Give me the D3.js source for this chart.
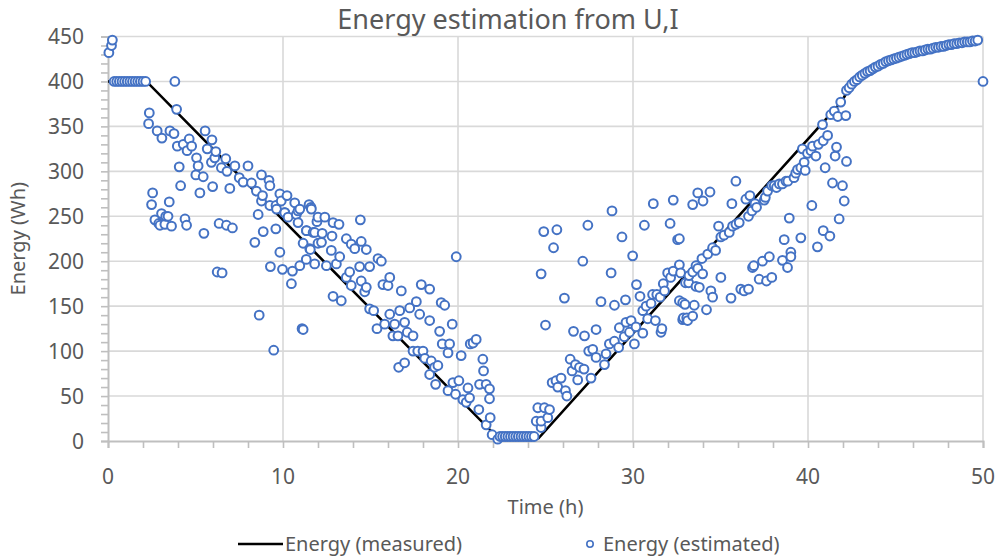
<!DOCTYPE html>
<html>
<head>
<meta charset="utf-8">
<script src="https://cdn.jsdelivr.net/npm/d3@7"></script>
<style>
  body { margin: 0; background: #fff; }
  text { font-family: "Noto Sans", "Open Sans", sans-serif; fill: #595959; }
</style>
</head>
<body>
<div id="chart"></div>
<script>
// Measured energy (black line)
const measTime = [0, 2.2, 22.3, 24.6, 41.9, 42.4, 43, 44, 45, 46, 47, 48, 49, 49.7];
const measEnergy = [400, 400, 3, 3, 377, 394, 405, 418, 427, 432, 437, 441, 444, 446];

// Estimated energy (blue circles)
const estTime = [
  0.05, 0.2, 0.25,
  0.35, 0.5, 0.65, 0.8, 0.95, 1.1, 1.25, 1.4, 1.55, 1.7, 1.85, 2.0, 2.15,
  2.32, 2.36, 2.49, 2.55, 2.68, 2.81, 2.9, 2.97, 3.06, 3.08, 3.25, 3.3, 3.43, 3.5, 3.54, 3.63,
  3.77, 3.82, 3.92, 3.96, 4.07, 4.15, 4.3, 4.4, 4.49, 4.52, 4.64, 4.78, 5.02, 5.06, 5.15, 5.25,
  5.44, 5.48, 5.55, 5.67, 5.91, 5.94, 5.98, 6.1, 6.16, 6.24, 6.35, 6.48, 6.52, 6.73, 6.77, 6.8,
  6.96, 7.11, 7.25, 7.5, 7.72, 8.0, 8.2, 8.39, 8.48, 8.58, 8.64, 8.77, 8.77, 8.83, 8.87, 9.2,
  9.25, 9.25, 9.28, 9.47, 9.59, 9.6, 9.63, 9.82, 9.82, 9.9, 9.97, 10.1, 10.1, 10.23, 10.29, 10.48,
  10.54, 10.67, 10.76, 10.86, 10.86, 10.96, 10.96, 11.09, 11.15, 11.15, 11.33, 11.34, 11.34, 11.49, 11.53, 11.56,
  11.6, 11.62, 11.72, 11.81, 11.81, 11.94, 12.0, 12.0, 12.2, 12.24, 12.39, 12.48, 12.76, 12.8, 12.86, 12.86,
  13.05, 13.2, 13.24, 13.33, 13.62, 13.62, 13.81, 13.9, 13.9, 14.1, 14.38, 14.42, 14.47, 14.47, 14.67, 14.76,
  14.76, 14.95, 14.95, 15.18, 15.37, 15.43, 15.62, 15.71, 15.81, 16.0, 16.1, 16.1, 16.28, 16.38, 16.57, 16.61,
  16.67, 16.76, 16.95, 16.95, 17.1, 17.24, 17.43, 17.43, 17.62, 17.7, 17.81, 17.9, 18.0, 18.1, 18.38, 18.38,
  18.38, 18.47, 18.66, 18.72, 18.85, 18.95, 19.04, 19.1, 19.24, 19.43, 19.43, 19.52, 19.67, 19.71, 19.86, 19.9,
  20.05, 20.18, 20.28, 20.47, 20.57, 20.66, 20.7, 20.86, 21.04, 21.19, 21.23, 21.42, 21.46, 21.61, 21.61, 21.8,
  21.8, 21.84, 21.95, 22.27,
  22.4, 22.55, 22.7, 22.85, 23.0, 23.15, 23.3, 23.45, 23.6, 23.75, 23.9, 24.05, 24.2, 24.35,
  24.47, 24.56, 24.75, 24.75, 24.75, 24.9, 24.94, 25.0, 25.13, 25.23, 25.38, 25.46, 25.6, 25.65, 25.7, 25.89,
  26.08, 26.14, 26.22, 26.41, 26.52, 26.6, 26.71, 26.84, 26.94, 27.13, 27.2, 27.23, 27.42, 27.47, 27.6, 27.7,
  27.89, 27.89, 28.17, 28.37, 28.46, 28.65, 28.75, 28.8, 28.94, 28.94, 29.18, 29.22, 29.37, 29.5, 29.57, 29.6,
  29.8, 29.89, 29.98, 30.08, 30.17, 30.2, 30.4, 30.56, 30.56, 30.65, 30.75, 30.84, 31.03, 31.12, 31.16, 31.28,
  31.36, 31.55, 31.6, 31.65, 31.73, 31.8, 31.98, 32.12, 32.15, 32.3, 32.3, 32.55, 32.65, 32.65, 32.65, 32.72,
  32.84, 32.84, 32.88, 32.97, 33.0, 33.07, 33.12, 33.18, 33.2, 33.41, 33.41, 33.41, 33.5, 33.6, 33.6, 33.7,
  33.7, 33.79, 33.94, 33.98, 34.0, 34.2, 34.27, 34.4, 34.45, 34.55, 34.55, 34.72, 34.89, 35.02, 35.02, 35.2,
  35.5, 35.6, 35.65, 35.69, 35.88, 35.88, 36.07, 36.16, 36.35, 36.45, 36.6, 36.6, 36.68, 36.8, 36.83, 36.9,
  36.97, 37.06, 37.21, 37.4, 37.5, 37.56, 37.63, 37.69, 37.79, 37.93, 37.93, 38.07, 38.2, 38.36, 38.54, 38.54,
  38.64, 38.74, 38.83, 38.85, 38.93, 39.02, 39.02, 39.2, 39.3, 39.4, 39.59, 39.59, 39.68, 39.78, 39.84, 39.97,
  40.17, 40.22, 40.26, 40.45, 40.54, 40.6, 40.83, 40.87, 40.87, 40.98, 41.12, 41.25, 41.3, 41.4, 41.5, 41.55,
  41.63, 41.7, 41.78, 41.87, 41.97, 42.07, 42.16, 42.2,
  42.2, 42.35, 42.5, 42.65, 42.8, 42.95, 43.1, 43.25, 43.4, 43.55, 43.7, 43.85, 44.0, 44.15, 44.3, 44.45,
  44.6, 44.75, 44.9, 45.05, 45.2, 45.35, 45.5, 45.65, 45.8, 45.95, 46.1, 46.25, 46.4, 46.55, 46.7, 46.85,
  47.0, 47.15, 47.3, 47.45, 47.6, 47.75, 47.9, 48.05, 48.2, 48.35, 48.5, 48.65, 48.8, 48.95, 49.1, 49.25,
  49.4, 49.55, 49.7, 50.0
];
const estEnergy = [
  432, 440, 446,
  400, 400, 400, 400, 400, 400, 400, 400, 400, 400, 400, 400, 400,
  353, 365, 263, 276, 246, 345, 242, 240, 253, 337, 241, 250, 250, 266, 345, 239,
  342, 400, 369, 328, 305, 284, 330, 247, 240, 323, 336, 328, 296, 315, 306, 276,
  294, 231, 345, 325, 310, 335, 283, 315, 322, 188, 242, 304, 187, 314, 240, 300,
  281, 237, 306, 293, 288, 306, 287, 221, 278, 252, 140, 296, 267, 273, 233, 290,
  284, 262, 194, 101, 236, 262, 258, 275, 210, 267, 191, 254, 254, 273, 249, 175,
  189, 265, 252, 256, 243, 195, 258, 125, 220, 124, 202, 234, 234, 263, 214, 213,
  260, 258, 232, 197, 232, 244, 249, 220, 221, 231, 249, 195, 212, 228, 243, 161,
  197, 241, 205, 156, 225, 182, 188, 219, 173, 214, 194, 246, 222, 178, 166, 213,
  171, 194, 147, 145, 125, 203, 200, 174, 130, 173, 182, 141, 117, 130, 117, 82,
  145, 167, 132, 87, 121, 148, 117, 100, 155, 100, 141, 174, 100, 92, 169, 134,
  74, 89, 82, 63, 84, 122, 154, 108, 151, 98, 56, 108, 130, 65, 52, 205,
  67, 95, 46, 43, 59, 48, 108, 109, 113, 35, 63, 91, 78, 63, 18, 58,
  47, 26, 7, 2,
  5, 5, 5, 5, 5, 5, 5, 5, 5, 5, 5, 5, 5, 5,
  22, 37, 15, 22, 186, 233, 37, 129, 26, 35, 65, 215, 67, 235, 60, 70,
  159, 56, 50, 91, 78, 122, 85, 68, 82, 200, 80, 117, 240, 100, 70, 102,
  124, 93, 155, 85, 97, 108, 187, 256, 151, 111, 104, 126, 227, 116, 157, 132,
  121, 134, 206, 108, 127, 174, 161, 120, 145, 240, 150, 136, 153, 163, 264, 134,
  163, 160, 121, 125, 175, 167, 187, 242, 182, 268, 189, 224, 196, 225, 156, 187,
  154, 135, 137, 152, 176, 137, 134, 176, 184, 139, 188, 263, 151, 195, 172, 276,
  192, 171, 203, 186, 267, 146, 208, 277, 167, 160, 215, 212, 239, 182, 227, 229,
  232, 159, 264, 239, 289, 241, 243, 169, 167, 269, 169, 250, 273, 256, 193, 195,
  264, 260, 180, 200, 268, 271, 178, 278, 205, 284, 182, 284, 282, 286, 286, 201,
  224, 289, 193, 289, 248, 210, 205, 293, 298, 302, 304, 226, 325, 310, 301, 320,
  323, 262, 328, 317, 216, 330, 352, 334, 234, 304, 340, 228, 363, 287, 367, 317,
  327, 361, 247, 377, 284, 267, 362, 311,
  390, 393, 397, 400, 402, 405, 407, 409, 411, 412, 414, 416, 417, 419, 420, 422,
  423, 424, 425, 426, 427, 428, 429, 430, 431, 432, 432, 433, 434, 434, 435, 436,
  436, 437, 438, 438, 439, 439, 440, 441, 441, 442, 442, 443, 443, 444, 444, 444,
  445, 445, 446, 400
];

// Axis ticks
const xTicks = [0, 10, 20, 30, 40, 50];
const yTicks = [0, 50, 100, 150, 200, 250, 300, 350, 400, 450];

const width = 997;
const height = 558;
const plot = { left: 108, right: 983, top: 36.5, bottom: 441 };

const svg = d3
  .select("#chart")
  .append("svg")
  .attr("width", width)
  .attr("height", height);

const x = d3.scaleLinear().domain([0, 50]).range([plot.left, plot.right]);
const y = d3.scaleLinear().domain([0, 450]).range([plot.bottom, plot.top]);

// Gridlines
svg
  .append("g")
  .selectAll("line")
  .data(yTicks.slice(1))
  .enter()
  .append("line")
  .attr("x1", plot.left)
  .attr("x2", plot.right)
  .attr("y1", (d) => y(d))
  .attr("y2", (d) => y(d))
  .attr("stroke", "#d9d9d9")
  .attr("stroke-width", 1.6);

svg
  .append("g")
  .selectAll("line")
  .data(xTicks.slice(1))
  .enter()
  .append("line")
  .attr("x1", (d) => x(d))
  .attr("x2", (d) => x(d))
  .attr("y1", plot.top)
  .attr("y2", plot.bottom)
  .attr("stroke", "#d9d9d9")
  .attr("stroke-width", 1.6);

// Minor ticks (every 2 h and every 10 Wh)
const xAxis = svg
  .append("g")
  .attr("transform", `translate(0,${plot.bottom})`)
  .call(d3.axisBottom(x).ticks(25).tickSize(7).tickFormat(""));
const yAxis = svg
  .append("g")
  .attr("transform", `translate(${plot.left},0)`)
  .call(d3.axisLeft(y).ticks(45).tickSize(7).tickFormat(""));

[xAxis, yAxis].forEach((g) => {
  g.select(".domain").attr("stroke", "#bfbfbf").attr("stroke-width", 2);
  g.selectAll(".tick line").attr("stroke", "#bfbfbf").attr("stroke-width", 1.6);
});

// Tick labels
svg
  .append("g")
  .selectAll("text")
  .data(xTicks)
  .enter()
  .append("text")
  .attr("x", (d) => x(d))
  .attr("y", plot.bottom + 43)
  .attr("text-anchor", "middle")
  .style("font-size", "21px")
  .text((d) => d);

svg
  .append("g")
  .selectAll("text")
  .data(yTicks)
  .enter()
  .append("text")
  .attr("x", plot.left - 24)
  .attr("y", (d) => y(d))
  .attr("dy", "0.36em")
  .attr("text-anchor", "end")
  .style("font-size", "21px")
  .text((d) => d);

// Measured line
const line = d3
  .line()
  .x((d, i) => x(measTime[i]))
  .y((d) => y(d));

svg
  .append("path")
  .datum(measEnergy)
  .attr("d", line)
  .attr("fill", "none")
  .attr("stroke", "#000")
  .attr("stroke-width", 2.6);

// Estimated points
svg
  .append("g")
  .selectAll("circle")
  .data(estEnergy)
  .enter()
  .append("circle")
  .attr("cx", (d, i) => x(estTime[i]))
  .attr("cy", (d) => y(d))
  .attr("r", 4.4)
  .attr("fill", "#fff")
  .attr("stroke", "#4472c4")
  .attr("stroke-width", 2);

// Title and axis titles
svg
  .append("text")
  .attr("x", 508)
  .attr("y", 29)
  .attr("text-anchor", "middle")
  .style("font-size", "27px")
  .text("Energy estimation from U,I");

svg
  .append("text")
  .attr("x", (plot.left + plot.right) / 2)
  .attr("y", 514)
  .attr("text-anchor", "middle")
  .style("font-size", "20px")
  .text("Time (h)");

svg
  .append("text")
  .attr("transform", "rotate(-90)")
  .attr("x", -(plot.top + plot.bottom) / 2)
  .attr("y", 25)
  .attr("text-anchor", "middle")
  .style("font-size", "20px")
  .text("Energy (Wh)");

// Legend
const legend = svg.append("g").attr("transform", "translate(0,544)");
legend
  .append("line")
  .attr("x1", 238)
  .attr("x2", 283)
  .attr("stroke", "#000")
  .attr("stroke-width", 2.6);
legend
  .append("text")
  .attr("x", 285)
  .attr("dy", "0.35em")
  .style("font-size", "20px")
  .text("Energy (measured)");
legend
  .append("circle")
  .attr("cx", 590)
  .attr("r", 3.2)
  .attr("fill", "#fff")
  .attr("stroke", "#4472c4")
  .attr("stroke-width", 1.6);
legend
  .append("text")
  .attr("x", 603)
  .attr("dy", "0.35em")
  .style("font-size", "20px")
  .text("Energy (estimated)");
</script>
</body>
</html>
